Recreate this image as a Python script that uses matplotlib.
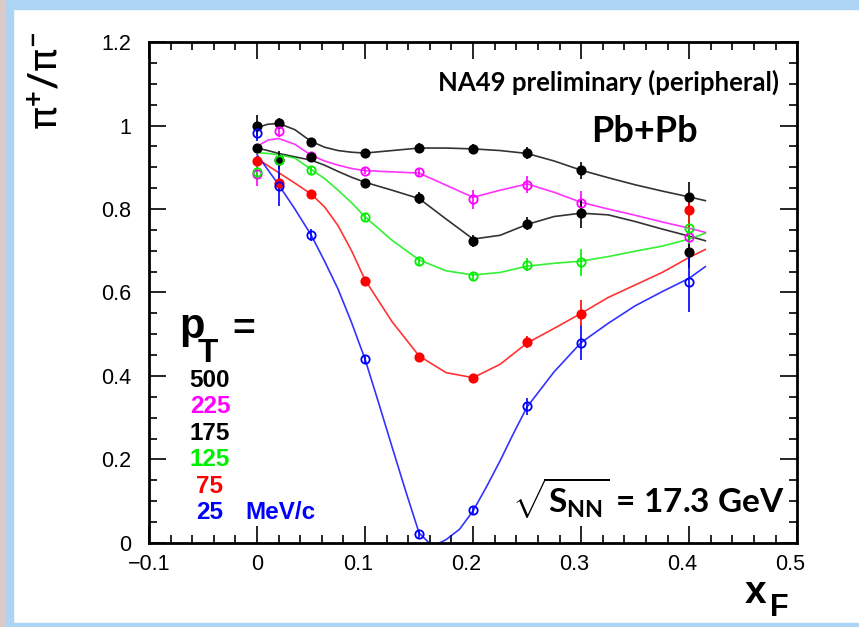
import matplotlib
matplotlib.use("Agg")
import matplotlib.pyplot as plt
from matplotlib.patches import Rectangle
from matplotlib.ticker import MultipleLocator
from matplotlib.transforms import ScaledTranslation

# measured points (x_F, pi+/pi- ratio, error)
x_pts = [0.0, 0.02, 0.05, 0.1, 0.15, 0.2, 0.25, 0.3, 0.4]

y_500 = [0.999, 1.005, 0.961, 0.935, 0.946, 0.943, 0.934, 0.893, 0.829]
e_500 = [0.025, 0.012, 0.010, 0.008, 0.012, 0.012, 0.014, 0.020, 0.035]
y_225 = [0.885, 0.987, 0.927, 0.891, 0.888, 0.823, 0.858, 0.814, 0.732]
e_225 = [0.030, 0.015, 0.010, 0.008, 0.010, 0.022, 0.020, 0.030, 0.030]
y_175 = [0.945, 0.918, 0.924, 0.862, 0.826, 0.724, 0.765, 0.790, 0.698]
e_175 = [0.010, 0.022, 0.010, 0.008, 0.014, 0.014, 0.016, 0.035, 0.040]
y_125 = [0.889, 0.918, 0.893, 0.780, 0.676, 0.640, 0.667, 0.672, 0.755]
e_125 = [0.020, 0.010, 0.010, 0.008, 0.010, 0.010, 0.015, 0.032, 0.040]
y_75 = [0.916, 0.862, 0.835, 0.628, 0.445, 0.394, 0.481, 0.549, 0.797]
e_75 = [0.010, 0.022, 0.010, 0.008, 0.008, 0.008, 0.014, 0.032, 0.040]
y_25 = [0.983, 0.856, 0.738, 0.441, 0.021, 0.078, 0.327, 0.479, 0.624]
e_25 = [0.020, 0.050, 0.015, 0.010, 0.010, 0.010, 0.020, 0.040, 0.070]

# smooth curves
cx = [0.0, 0.01, 0.02, 0.035, 0.05, 0.0625, 0.075, 0.0875, 0.1, 0.125, 0.15, 0.175, 0.2,
      0.225, 0.25, 0.275, 0.3, 0.325, 0.35, 0.375, 0.4, 0.415]
c_500 = [0.995, 1.003, 1.005, 0.990, 0.962, 0.948, 0.940, 0.936, 0.934, 0.940, 0.946, 0.946,
         0.944, 0.940, 0.933, 0.915, 0.893, 0.875, 0.858, 0.843, 0.829, 0.820]
c_225 = [0.950, 0.965, 0.969, 0.955, 0.929, 0.915, 0.905, 0.897, 0.892, 0.889, 0.886, 0.857,
         0.828, 0.845, 0.860, 0.840, 0.816, 0.800, 0.785, 0.769, 0.754, 0.744]
c_175 = [0.946, 0.940, 0.933, 0.925, 0.917, 0.905, 0.890, 0.876, 0.864, 0.845, 0.825, 0.776,
         0.728, 0.737, 0.763, 0.782, 0.790, 0.786, 0.770, 0.752, 0.735, 0.724]
c_125 = [0.935, 0.933, 0.930, 0.922, 0.895, 0.873, 0.845, 0.815, 0.781, 0.725, 0.678, 0.652,
         0.642, 0.648, 0.663, 0.670, 0.675, 0.686, 0.699, 0.711, 0.728, 0.742]
c_75 = [0.920, 0.904, 0.887, 0.862, 0.836, 0.805, 0.760, 0.700, 0.630, 0.530, 0.448, 0.408,
        0.396, 0.428, 0.479, 0.514, 0.550, 0.588, 0.618, 0.648, 0.684, 0.703]
bx = [0.0, 0.02, 0.035, 0.05, 0.0625, 0.075, 0.0875, 0.1, 0.1125, 0.125, 0.1375, 0.15,
      0.1625, 0.175, 0.1875, 0.2, 0.2125, 0.225, 0.2375, 0.25, 0.275, 0.3, 0.325,
      0.35, 0.375, 0.4, 0.415]
c_25 = [0.930, 0.858, 0.800, 0.738, 0.675, 0.608, 0.528, 0.440, 0.336, 0.230, 0.125,
        0.024, -0.008, 0.008, 0.033, 0.077, 0.135, 0.197, 0.263, 0.326, 0.410, 0.480,
        0.526, 0.568, 0.602, 0.634, 0.662]

series = [
    ("500", y_500, e_500, cx, c_500, "black", True),
    ("225", y_225, e_225, cx, c_225, "#ff00ff", False),
    ("175", y_175, e_175, cx, c_175, "black", True),
    ("125", y_125, e_125, cx, c_125, "#00ee00", False),
    ("75", y_75, e_75, cx, c_75, "#ff0000", True),
    ("25", y_25, e_25, bx, c_25, "#0000ff", False),
]

plt.rcParams['font.family'] = ['Liberation Sans', 'DejaVu Sans']
plt.rcParams['mathtext.fontset'] = 'custom'
plt.rcParams['mathtext.bf'] = 'Lato:bold'
plt.rcParams['mathtext.rm'] = 'Lato:bold'
plt.rcParams['mathtext.sf'] = 'DejaVu Sans'

fig = plt.figure(figsize=(8.59, 6.27), dpi=100)
ax = fig.add_axes([0.1735, 0.134, 0.7545, 0.799])

for label, ys, es, xs_c, ys_c, col, filled in series:
    ax.plot(xs_c, ys_c, color=col, lw=1.2, alpha=0.8, zorder=2)
    ax.errorbar(x_pts, ys, yerr=es, fmt="none", ecolor=col, elinewidth=1.2, zorder=3)
    ax.plot(x_pts, ys, "o", ms=6, mew=1.3, color=col,
            mfc=col if filled else "none", zorder=4)

ax.set_xlim(-0.1, 0.5)
ax.set_ylim(0, 1.2)
ax.xaxis.set_minor_locator(MultipleLocator(0.02))
ax.yaxis.set_minor_locator(MultipleLocator(0.05))
ax.set_xticks([-0.1, 0, 0.1, 0.2, 0.3, 0.4, 0.5])
ax.set_xticklabels(["\u22120.1", "0", "0.1", "0.2", "0.3", "0.4", "0.5"])
ax.set_yticks([0, 0.2, 0.4, 0.6, 0.8, 1.0, 1.2])
ax.set_yticklabels(["0", "0.2", "0.4", "0.6", "0.8", "1", "1.2"])
ax.tick_params(which="both", direction="in", top=True, right=True, width=1.2)
ax.tick_params(which="major", length=12, labelsize=15.5)
ax.tick_params(which="minor", length=6)
ax.tick_params(axis="x", pad=8)
ax.tick_params(axis="y", pad=13)
for sp in ax.spines.values():
    sp.set_linewidth(2)
# decimal x labels sit a little left of their ticks
shift = ScaledTranslation(-7 / 100, 0, fig.dpi_scale_trans)
for lab in ax.get_xticklabels():
    if lab.get_text() not in ("0", "\u22120.1"):
        lab.set_transform(lab.get_transform() + shift)

# labels inside the frame
ax.text(0.972, 0.92, "NA49 preliminary (peripheral)", transform=ax.transAxes,
        ha="right", va="center", fontsize=18.5, fontweight="bold", family="Lato")
ax.text(0.765, 0.822, "Pb+Pb", transform=ax.transAxes, ha="center", va="center",
        fontsize=26, fontweight="bold", family="Lato")
ax.text(0.981, 0.09, r"$\sqrt{\mathbf{S}_{\mathbf{NN}}}$ = 17.3 GeV", transform=ax.transAxes,
        ha="right", va="center", fontsize=24, fontweight="bold", family="Lato")

# pT legend
ax.text(0.046, 0.409, "p", transform=ax.transAxes, fontsize=30, fontweight="bold",
        ha="left", va="baseline")
ax.text(0.075, 0.361, "T", transform=ax.transAxes, fontsize=24, fontweight="bold",
        ha="left", va="baseline")
ax.text(0.128, 0.405, "=", transform=ax.transAxes, fontsize=28, fontweight="bold",
        ha="left", va="baseline")
leg_labels = ["500", "225", "175", "125", "75", "25"]
leg_cols = ["black", "#ff00ff", "black", "#00ee00", "#ff0000", "#0000ff"]
for i, (t, c) in enumerate(zip(leg_labels, leg_cols)):
    ax.text(0.094, 0.325 - i * 0.0529, t, transform=ax.transAxes, color=c,
            fontsize=17.5, fontweight="bold", ha="center", va="center")
ax.text(0.148, 0.325 - 5 * 0.0529, "MeV/c", transform=ax.transAxes, color="#0000ff",
        fontsize=17.5, fontweight="bold", ha="left", va="center")

# axis titles
fig.text(0.056, 0.95, r"$\mathsf{\pi}^{+}/\mathsf{\pi}^{-}$", rotation=90, ha="center",
         va="top", fontsize=28)
fig.text(0.879, 0.055, "x", fontsize=28, fontweight="bold", ha="center", va="center")
fig.text(0.907, 0.03, "F", fontsize=22, fontweight="bold", ha="center", va="center")

# light blue frame around the picture
band = "#add3f5"
fig.patches.append(Rectangle((0, 0.986), 1, 0.014, transform=fig.transFigure,
                             color=band, zorder=10))
fig.patches.append(Rectangle((0, 0), 0.015, 1, transform=fig.transFigure,
                             color=band, zorder=10))
fig.patches.append(Rectangle((0, 0), 0.006, 1, transform=fig.transFigure,
                             color="#d9c9c9", zorder=11))
fig.patches.append(Rectangle((0, 0), 1, 0.006, transform=fig.transFigure,
                             color=band, zorder=10))

fig.savefig("out.png", dpi=100)
